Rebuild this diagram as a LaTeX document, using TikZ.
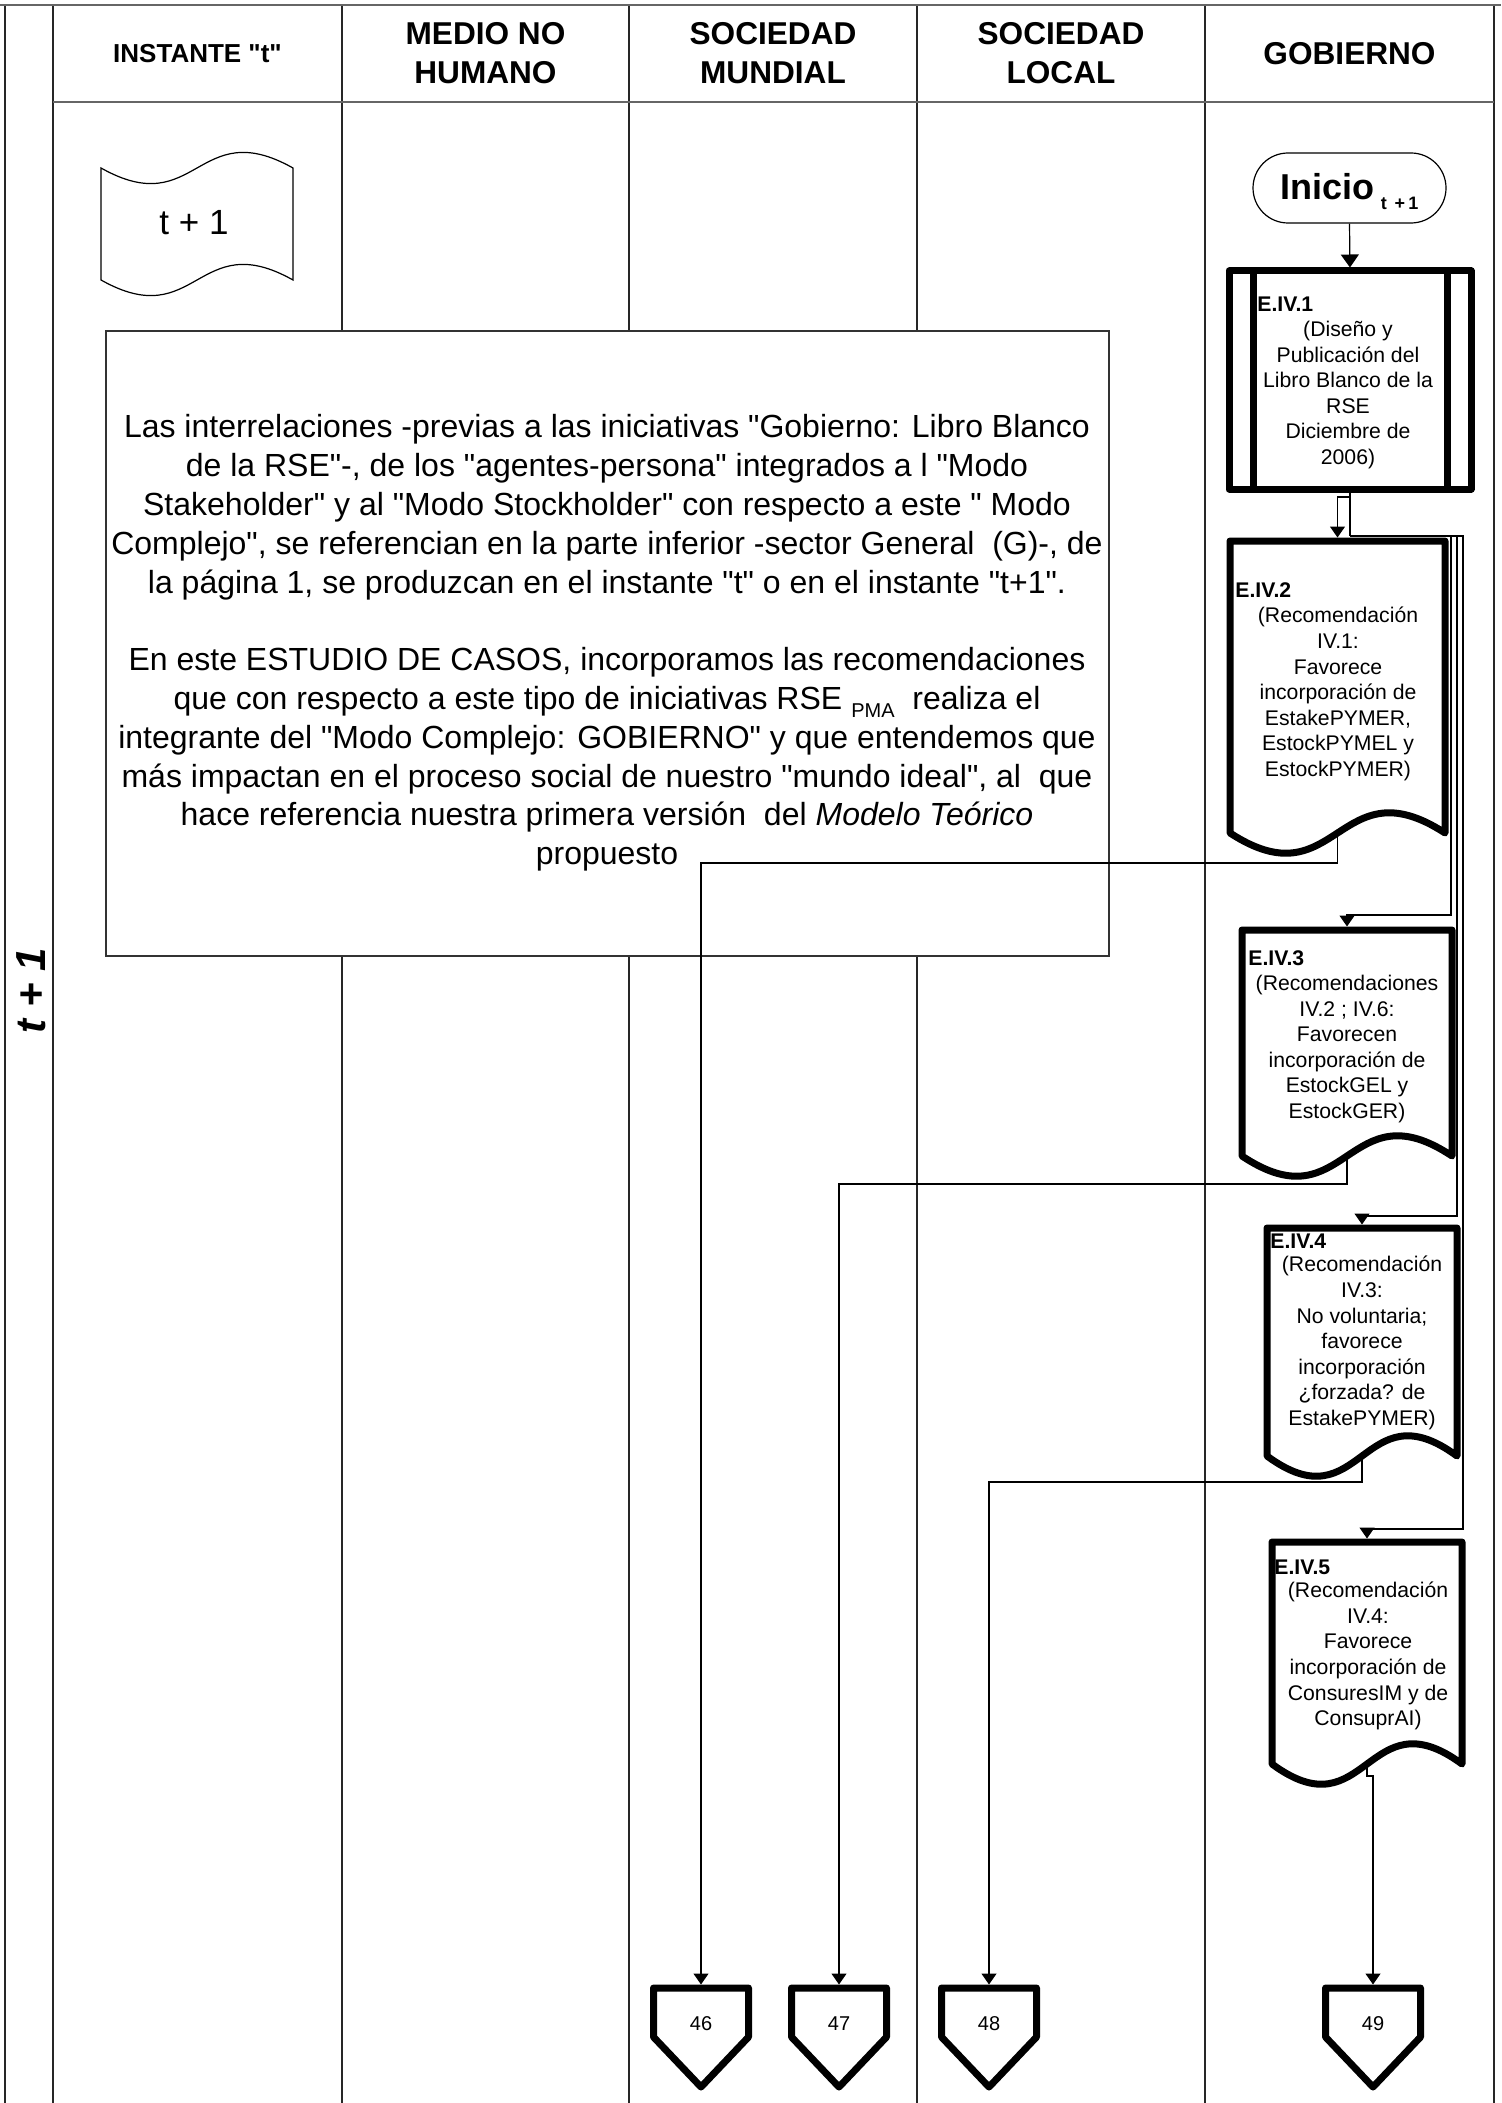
\documentclass[tikz,border=0pt]{standalone}
\usepackage{fontspec}
\setmainfont{Liberation Sans}
\newfontfamily\af{Liberation Sans}
\usetikzlibrary{arrows.meta,fit}
\newcommand{\fhead}{\af\fontsize{15.8}{19.5}\selectfont\bfseries}
\newcommand{\fshape}{\af\fontsize{10.6}{12.8}\selectfont}
\newcommand{\fnote}{\af\fontsize{16}{19.4}\selectfont}
\newcommand{\docsh}[1]{\draw[thickline] (#1.north west) -- (#1.north east) -- (#1.south east) .. controls ([yshift=35pt]#1.south) and ([yshift=-35pt]#1.south) .. (#1.south west) -- cycle;}
\newcommand{\pent}[1]{\draw[thickline] (#1.north west) -- (#1.north east) -- ([yshift=-24.5pt]#1.north east) -- (#1.south) -- ([yshift=-24.5pt]#1.north west) -- cycle;}
\begin{document}
\begin{tikzpicture}[x=0.5pt,y=-0.5pt,
  colline/.style={line width=0.7pt, draw=black!85},
  frameline/.style={line width=1.3pt, draw=black!60},
  thickline/.style={line width=3.5pt, line join=round},
  ln/.style={line width=0.6pt},
  conn/.style={line width=0.6pt, -{Triangle[length=5.5pt,width=7.5pt]}, shorten >=1.75pt},
  shapebox/.style={inner sep=0pt, outer sep=0pt},
  hd/.style={font=\fhead, align=center},
  lbl/.style={font=\fshape\bfseries, anchor=west, inner sep=0pt},
  body/.style={font=\fshape, align=center, inner sep=0pt},
  num/.style={font=\af\fontsize{10}{10}\selectfont, inner sep=0pt}]
\useasboundingbox (0,0) rectangle (1501,2103);
% frame and swimlanes
\draw[colline] (5,5) -- (5,2103);
\draw[colline] (53,5) -- (53,2103);
\foreach \cx in {342,629,917,1205} \draw[colline] (\cx,5) -- (\cx,2103);
\draw[colline] (1494,5) -- (1494,2103);
\draw[frameline] (0,5) -- (1501,5);
\draw[frameline] (53,102) -- (1494,102);
% headers
\node[font=\af\fontsize{13}{16}\selectfont\bfseries] (h1) at (197.5,54) {INSTANTE "t"};
\node[hd] (h2) at (485.5,53) {MEDIO NO\\HUMANO};
\node[hd] (h3) at (773,53) {SOCIEDAD\\MUNDIAL};
\node[hd] (h4) at (1061,53) {SOCIEDAD\\LOCAL};
\node[hd] (h5) at (1349.5,54) {GOBIERNO};
% vertical label
\node[rotate=90, font=\af\fontsize{21}{22}\selectfont\bfseries\itshape] (tlab) at (31,991) {t + 1};
% tape
\node[shapebox, fit={(101,168)(293,280)}] (tape) {};
\draw[ln] (tape.north west) .. controls ([yshift=-27pt]tape.north) and ([yshift=27pt]tape.north) .. (tape.north east) -- (tape.south east) .. controls ([yshift=27pt]tape.south) and ([yshift=-27pt]tape.south) .. (tape.south west) -- cycle;
\node[font=\af\fontsize{17.5}{20}\selectfont, inner sep=0pt] (tapetext) at (194,223) {t + 1};
% note box
\node[shapebox, fit={(106,331)(1109,956)}, draw=black!80, line width=0.6pt, fill=white] (note) {};
\node[font=\fnote, align=center, inner sep=0pt] (notetext) at (607,643) {Las interrelaciones -previas a las iniciativas "Gobierno: Libro Blanco\\
de la RSE"-, de los "agentes-persona" integrados a l "Modo\\
Stakeholder" y al "Modo Stockholder" con respecto a este " Modo\\
Complejo", se referencian en la parte inferior -sector General\ \ (G)-, de\\
la página 1, se produzcan en el instante "t" o en el instante "t+1".\\[19.4pt]
En este ESTUDIO DE CASOS, incorporamos las recomendaciones\\
que con respecto a este tipo de iniciativas RSE \raisebox{-4pt}{\fontsize{10}{10}\selectfont PMA}\ \ realiza el\\
integrante del "Modo Complejo: GOBIERNO" y que entendemos que\\
más impactan en el proceso social de nuestro "mundo ideal", al\ \ que\\
hace referencia nuestra primera versión\ \ del \textit{Modelo Teórico}\\
propuesto};
% Inicio
\node[draw, ln, rounded corners=17.5pt, minimum width=96.5pt, minimum height=35pt, inner sep=0pt, text height=15pt, text depth=3pt, font=\af\bfseries\fontsize{18}{20}\selectfont] (inicio) at (1349.5,188) {Inicio\hspace{3pt}\raisebox{-5pt}{\fontsize{9}{9}\selectfont t\ \,+\,1}};
% E.IV.1
\node[shapebox, fit={(1229,271)(1471,489)}, draw, thickline] (e1) {};
\draw[thickline] ([xshift=12pt]e1.north west) -- ([xshift=12pt]e1.south west);
\draw[thickline] ([xshift=-12pt]e1.north east) -- ([xshift=-12pt]e1.south east);
\node[lbl] (e1l) at (1257,304) {E.IV.1};
\node[body] (e1t) at (1348,395) {(Diseño y\\Publicación del\\Libro Blanco de la\\RSE\\Diciembre de\\2006)};
% E.IV.2
\node[shapebox, fit={(1230,541)(1445,833)}] (e2) {};
\docsh{e2}
\node[lbl] (e2l) at (1235,590) {E.IV.2};
\node[body] (e2t) at (1338,694) {(Recomendación\\IV.1:\\Favorece\\incorporación de\\EstakePYMER,\\EstockPYMEL y\\EstockPYMER)};
% E.IV.3
\node[shapebox, fit={(1242,930)(1452,1156)}] (e3) {};
\docsh{e3}
\node[lbl] (e3l) at (1248,958) {E.IV.3};
\node[body] (e3t) at (1347,1049) {(Recomendaciones\\IV.2 ; IV.6:\\Favorecen\\incorporación de\\EstockGEL y\\EstockGER)};
% E.IV.4
\node[shapebox, fit={(1267,1228)(1457,1456)}] (e4) {};
\docsh{e4}
\node[lbl] (e4l) at (1270,1241) {E.IV.4};
\node[body] (e4t) at (1362,1343) {(Recomendación\\IV.3:\\No voluntaria;\\favorece\\incorporación\\¿forzada? de\\EstakePYMER)};
% E.IV.5
\node[shapebox, fit={(1272,1542)(1462,1764)}] (e5) {};
\docsh{e5}
\node[lbl] (e5l) at (1274,1567) {E.IV.5};
\node[body] (e5t) at (1368,1656) {(Recomendación\\IV.4:\\Favorece\\incorporación de\\ConsuresIM y de\\ConsuprAI)};
% off-page connectors
\node[shapebox, fit={(653.5,1988)(748.5,2087)}] (p46) {};
\node[shapebox, fit={(791.5,1988)(886.5,2087)}] (p47) {};
\node[shapebox, fit={(941.5,1988)(1036.5,2087)}] (p48) {};
\node[shapebox, fit={(1325.5,1988)(1420.5,2087)}] (p49) {};
\pent{p46}\pent{p47}\pent{p48}\pent{p49}
\node[num] (n46) at (701,2024) {46};
\node[num] (n47) at (839,2024) {47};
\node[num] (n48) at (989,2024) {48};
\node[num] (n49) at (1373,2024) {49};
% connectors
\draw[line width=0.6pt, -{Triangle[length=6.5pt,width=9pt]}, shorten >=1.75pt] (inicio.south) -- (e1.north);
\coordinate (split) at (1350,536);
\draw[ln] (e1.south) -- (split);
\draw[conn] (e1.south) -- ++(0,8) -| (e2.north);
\draw[conn] (split) -- (1451,536) -- (1451,915) -| (e3.north);
\draw[conn] (split) -- (1457,536) -- (1457,1216) -| (e4.north);
\draw[conn] (split) -- (1463,536) -- (1463,1529) -| (e5.north);
\draw[conn] (e2.south) -- ++(0,30) -| (p46.north);
\draw[conn] (e3.south) -- ++(0,28) -| (p47.north);
\draw[conn] (e4.south) -- ++(0,26) -| (p48.north);
\draw[conn] (e5.south) -- ++(0,12) -| (p49.north);
\end{tikzpicture}
\end{document}
